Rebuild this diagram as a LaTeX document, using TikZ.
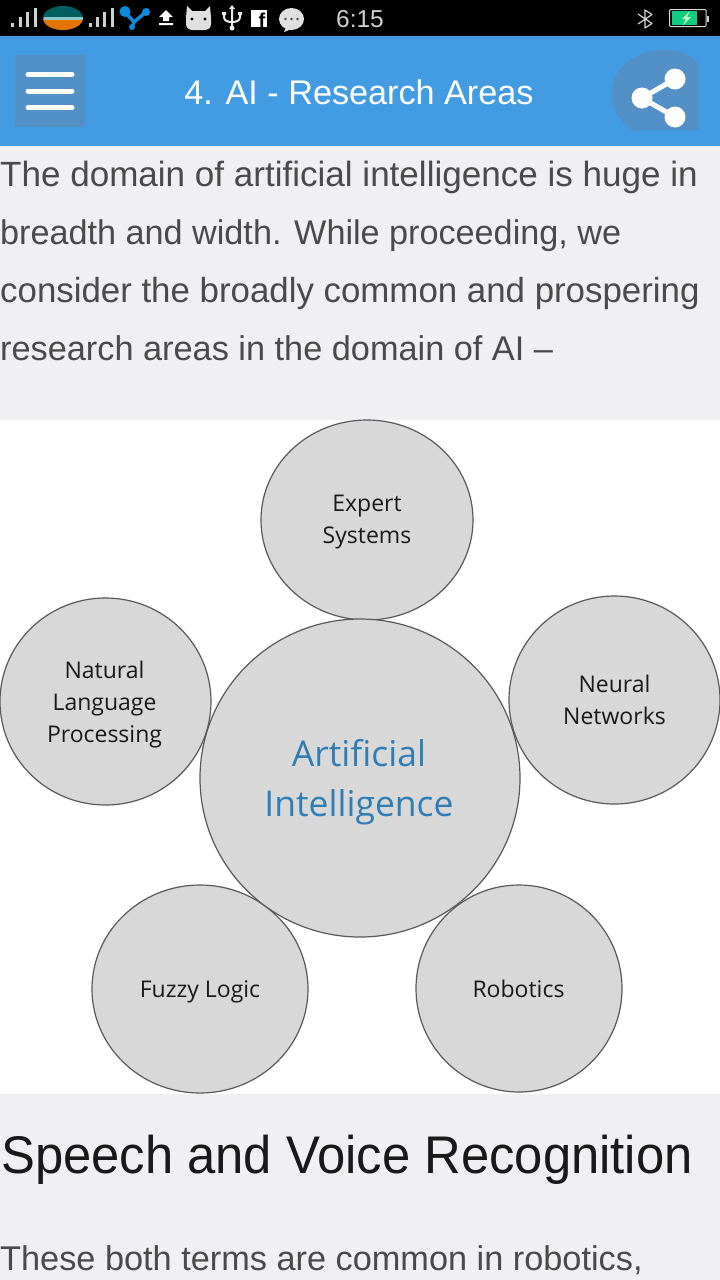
\documentclass[tikz,border=0pt]{standalone}
\usepackage{fontspec}
\setmainfont{Open Sans}
\newfontfamily\bodyf{Liberation Sans}
\newfontfamily\diagf{Open Sans}
\usetikzlibrary{calc,shapes.geometric}
\definecolor{barblue}{HTML}{439CE2}
\definecolor{btnblue}{HTML}{5390C6}
\definecolor{pagebg}{HTML}{F0F0F2}
\definecolor{bodytxt}{HTML}{4A4A4A}
\definecolor{disc}{HTML}{D8D8D8}
\definecolor{aiblue}{HTML}{2E7DB5}
\definecolor{statusgrey}{HTML}{D0D0D0}
\definecolor{iconblue}{HTML}{0A8BDC}
\definecolor{batgreen}{HTML}{10CC80}
\tikzset{
 bub/.style={ellipse,draw=black!65,line width=1.2pt,fill=disc,inner sep=0pt},
 bodyline/.style={anchor=base west,inner sep=0pt,text=bodytxt},
 blab/.style={align=center,text=black!90,inner sep=0pt,font=\diagf\fontsize{23}{32.3}\selectfont},
 ailab/.style={align=center,text=aiblue,inner sep=0pt,font=\diagf\fontsize{35.5}{50}\selectfont},
 wline/.style={white,line width=5pt,line cap=round},
 sig/.style={statusgrey,line width=3pt},
}
\newcommand{\bodysize}[1]{\bodyf\fontsize{#1}{#1}\selectfont}
\begin{document}
\begin{tikzpicture}[x=1pt,y=-1pt]
\useasboundingbox (0,0) rectangle (720,1280);
\fill[pagebg] (0,0) rectangle (720,1280);
% status bar
\fill[black] (0,0) rectangle (720,36);
\foreach \x/\t in {12.7/23,20/17,27/12,35/8}{\draw[sig] (\x,26.5)--(\x,\t);}
\fill[teal!75!black] (63,18) ellipse (20 and 12);
\begin{scope}
\clip (43,18) rectangle (83,31);
\fill[orange!90!black] (63,18) ellipse (20 and 12);
\end{scope}
\fill[teal!45!white] (44,16.5) rectangle (83,20);
\foreach \x/\t in {90/23,97/17,104/12,112/8}{\draw[sig] (\x,26.5)--(\x,\t);}
\draw[line width=3.5pt,color=iconblue] (125,12)--(134,22)--(146,12) (134,22)--(132,27);
\fill[iconblue] (125,11.5) circle (5.5) (146,12) circle (4) (132,27) circle (3);
\fill[white] (166,10)--(173,17)--(169,17)--(169,21)--(163,21)--(163,17)--(159,17)--cycle (159,23) rectangle (173,25);
\fill[white!88!black] (187,6)--(192,11)--(205,11)--(210,6)--(211,18)--(211,24) .. controls (211,28) and (208,30) .. (204,30) -- (193,30) .. controls (189,30) and (186,28) .. (186,24) -- (186,18) -- cycle;
\fill[black] (192,19) circle (1.7) (205,19) circle (1.7);
\draw[white!92!black,line width=2pt] (232,7)--(232,28) (224,13)--(224,17) .. controls (224,21) and (228,22) .. (232,22) .. controls (236,22) and (240,21) .. (240,17) -- (240,13);
\fill[white!92!black] (232,5)--(235,9)--(229,9)--cycle (222,12) rectangle (226,15) (238,12) rectangle (242,15) (232,28) circle (2.5);
\fill[white] (251,10) rectangle (267,27);
\node[inner sep=0pt,anchor=base,font=\bodyf\bfseries\fontsize{20}{20}\selectfont,text=black] (fb) at (262,27) {f};
\fill[white!88!black] (291.5,19) ellipse (12.5 and 11);
\fill[white!88!black] (286,27)--(284,32)--(294,28)--cycle;
\fill[black!70] (285.5,19) circle (1.3) (291.5,19) circle (1.3) (297.5,19) circle (1.3);
\node[inner sep=0pt,text=statusgrey,anchor=base,font=\bodyf\fontsize{24.5}{25}\selectfont] (clock) at (360,27) {6:15};
\draw[statusgrey,line width=1.2pt,line join=round] (638,14)--(652,23.5)--(645,28)--(645,10)--(652,14.5)--(638,24);
\draw[white!85!black,line width=1pt,rounded corners=1pt] (669.5,9.5) rectangle (706,26.5);
\fill[batgreen] (672,11) rectangle (697,25);
\fill[white!75!green] (690,11)--(682,19)--(686,19)--(683,25.5)--(691,17)--(687,17)--cycle;
\fill[statusgrey] (707,15.5) rectangle (709,21.5);
% app bar
\fill[barblue] (0,36) rectangle (720,146);
\fill[btnblue] (15,55) rectangle (85,127);
\draw[wline] (28,74.5)--(72,74.5);
\draw[wline] (28,91)--(72,91);
\draw[wline] (28,107.5)--(72,107.5);
\node[inner sep=0pt,anchor=base,text=white,font=\bodyf\fontsize{34.2}{34}\selectfont] (title) at (359,104) {4. AI - Research Areas};
\fill[btnblue] (698,130) -- (632,130) .. controls (619,121) and (612,108) .. (612,94) .. controls (612,68) and (634,50) .. (665,50) .. controls (680,50) and (692,55) .. (698,64) -- cycle;
\draw[white,line width=5pt] (675,79)--(642,98)--(675,117);
\fill[white] (642,98) circle (10.5) (675,79) circle (10.5) (675,117) circle (10.5);
% body
\node[bodyline,font=\bodysize{35.05}] (l1) at (0,186) {The domain of artificial intelligence is huge in};
\node[bodyline,font=\bodysize{34.2}] (l2) at (0,244) {breadth and width. While proceeding, we};
\node[bodyline,font=\bodysize{34.85}] (l3) at (0,302) {consider the broadly common and prospering};
\node[bodyline,font=\bodysize{34.3}] (l4) at (0,360) {research areas in the domain of AI –};
% diagram
\fill[white] (0,420) rectangle (720,1094);
\node[bub,minimum width=212pt,minimum height=200pt] (es) at (367,520) {};
\node[bub,minimum width=211pt,minimum height=207pt] (nlp) at (105.5,701.5) {};
\node[bub,minimum width=211pt,minimum height=208pt] (nn) at (614.5,700) {};
\node[bub,minimum width=216pt,minimum height=208pt] (fl) at (200,989) {};
\node[bub,minimum width=206pt,minimum height=207pt] (rb) at (519,988.5) {};
\node[bub,minimum width=320pt,minimum height=318pt] (ai) at (360,778) {};
\node[blab] (esl) at ($(es)+(0,2)$) {Expert\\Systems};
\node[blab] (nlpl) at ($(nlp)+(-1,3)$) {Natural\\Language\\Processing};
\node[blab] (nnl) at ($(nn)+(0,0)$) {Neural\\Networks};
\node[blab] (fll) at ($(fl)+(0,3)$) {Fuzzy Logic};
\node[blab] (rbl) at ($(rb)+(-0.5,0)$) {Robotics};
\node[ailab] (ail) at ($(ai)+(-1,4.5)$) {Artificial\\Intelligence};
% heading
\node[anchor=base west,inner sep=0pt,text=black!90,font=\bodyf\fontsize{53}{53}\selectfont] (hd) at (1,1173) {\scalebox{0.958}[1]{Speech and Voice Recognition}};
\node[bodyline,font=\bodysize{34.3}] (l5) at (0,1270) {These both terms are common in robotics,};
\end{tikzpicture}
\end{document}
